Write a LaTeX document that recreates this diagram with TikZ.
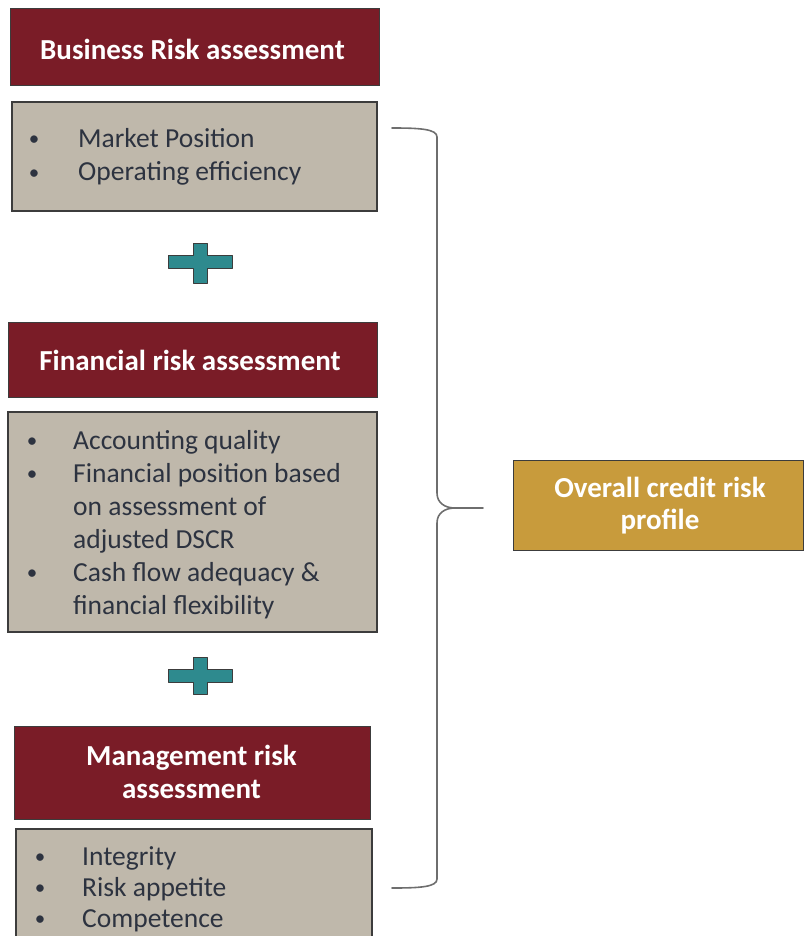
\documentclass[tikz,border=0pt]{standalone}
\usepackage{fontspec}
\setmainfont{Carlito}
\definecolor{maroon}{RGB}{122,28,39}
\definecolor{greybox}{RGB}{191,184,171}
\definecolor{gold}{RGB}{200,155,60}
\definecolor{teal}{RGB}{46,138,142}
\definecolor{textdark}{RGB}{45,51,64}
\definecolor{edge}{RGB}{60,60,60}
\definecolor{bracecol}{RGB}{110,110,110}
\begin{document}
\begin{tikzpicture}[x=1pt,y=-1pt,
  hdr/.style={draw=edge, fill=maroon, line width=1pt, inner sep=0pt},
  body/.style={draw=edge, fill=greybox, line width=1.5pt, inner sep=0pt},
  goldbox/.style={draw=edge, fill=gold, line width=1pt, inner sep=0pt},
  htext/.style={text=white, font=\bfseries\fontsize{29}{33}\selectfont, anchor=base, inner sep=0pt},
  btext/.style={text=textdark, font=\fontsize{27.5}{33}\selectfont, anchor=base west, inner sep=0pt},
  bul/.style={text=textdark, font=\fontsize{21}{33}\selectfont, anchor=base, inner sep=0pt},
  plus/.style={draw=edge, fill=teal, line width=1pt, line join=round},
  brace/.style={draw=bracecol, line width=1.6pt, line cap=round}]
\useasboundingbox (0,0) rectangle (805,936);
\clip (0,0) rectangle (805,936);

% Business
\node[hdr, minimum width=369pt, minimum height=77pt] (bh) at (194.5,47.5) {};
\node[htext] (bht) at (192.5,60) {Business Risk assessment};
\node[body, minimum width=365pt, minimum height=109pt] (bb) at (194.5,156.5) {};
\node[bul] (bb1) at (34,146) {•};
\node[btext] (bt1) at (78,148) {Market Position};
\node[bul] (bb2) at (34,179) {•};
\node[btext] (bt2) at (78,181) {Operating efficiency};

% plus 1
\path[plus] (168,255) -- (193,255) -- (193,243) -- (207,243) -- (207,255) -- (232,255) -- (232,268) -- (207,268) -- (207,283) -- (193,283) -- (193,268) -- (168,268) -- cycle;

% Financial
\node[hdr, minimum width=369pt, minimum height=75pt] (fh) at (192.5,359.5) {};
\node[htext] (fht) at (190,370) {Financial risk assessment};
\node[body, minimum width=369pt, minimum height=220pt] (fb) at (192.5,522) {};
\node[bul] (fb1) at (32,447) {•};
\node[btext] (ft1) at (73,449) {Accounting quality};
\node[bul] (fb2) at (32,480) {•};
\node[btext] (ft2) at (73,482) {Financial position based};
\node[btext] (ft3) at (73,515) {on assessment of};
\node[btext] (ft4) at (73,548) {adjusted DSCR};
\node[bul] (fb3) at (32,579) {•};
\node[btext] (ft5) at (73,581) {Cash flow adequacy \&};
\node[btext] (ft6) at (73,614) {financial flexibility};

% plus 2
\path[plus] (168,669) -- (193,669) -- (193,657) -- (207,657) -- (207,669) -- (232,669) -- (232,682) -- (207,682) -- (207,694) -- (193,694) -- (193,682) -- (168,682) -- cycle;

% Management
\node[hdr, minimum width=356pt, minimum height=93pt] (mh) at (192,772.5) {};
\node[htext] (mht1) at (191.5,765) {Management risk};
\node[htext] (mht2) at (191.5,798) {assessment};
\node[body, minimum width=356pt, minimum height=121pt] (mb) at (194,889.5) {};
\node[bul] (mb1) at (40,863) {•};
\node[btext] (mt1) at (82,865) {Integrity};
\node[bul] (mb2) at (40,894) {•};
\node[btext] (mt2) at (82,896) {Risk appetite};
\node[bul] (mb3) at (40,925) {•};
\node[btext] (mt3) at (82,927) {Competence};

% Overall
\node[goldbox, minimum width=290pt, minimum height=90pt] (ov) at (658,505) {};
\node[htext] (ovt1) at (660,497) {Overall credit risk};
\node[htext] (ovt2) at (660,529) {profile};

% brace
\coordinate (btop) at (392,128);
\coordinate (bbot) at (392,888);
\coordinate (btip) at (455,508);
\coordinate (bend) at (483,508);
\path[brace] (btop) .. controls (420,128) and (437,129) .. (437,137) -- (437,493) .. controls (437,503) and (445,508) .. (btip) -- (bend);
\path[brace] (btip) .. controls (445,508) and (437,513) .. (437,523) -- (437,879) .. controls (437,887) and (420,888) .. (bbot);
\end{tikzpicture}
\end{document}
